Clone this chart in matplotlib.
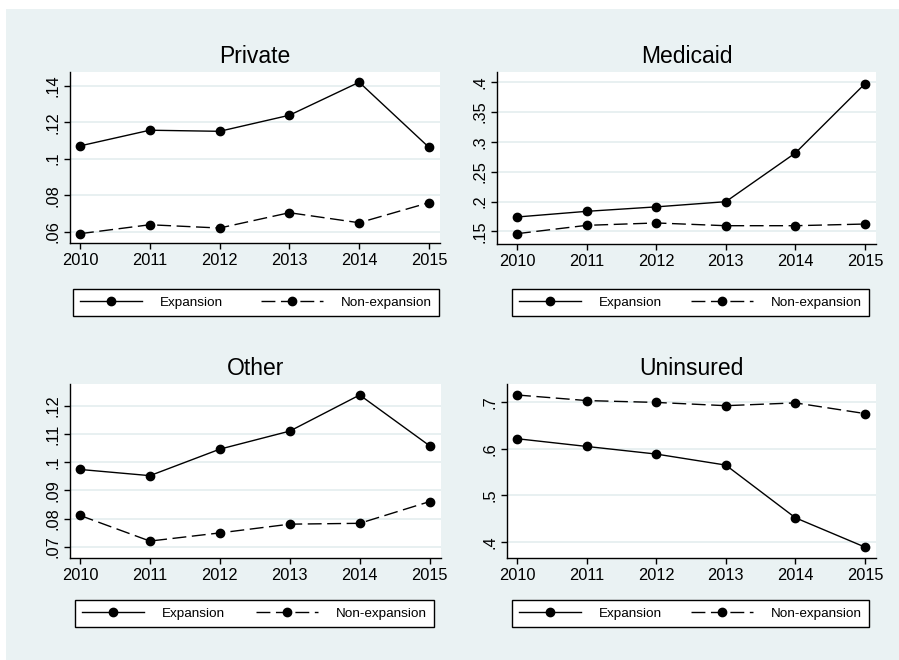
import matplotlib
matplotlib.use("Agg")
import matplotlib.pyplot as plt
from matplotlib.patches import Rectangle
from matplotlib.lines import Line2D

plt.rcParams["font.family"] = ["Liberation Sans", "DejaVu Sans"]

years = [2010, 2011, 2012, 2013, 2014, 2015]

private_exp = [0.1070, 0.1156, 0.1150, 0.1238, 0.1419, 0.1062]
private_non = [0.0589, 0.0638, 0.0620, 0.0704, 0.0649, 0.0759]

medicaid_exp = [0.1740, 0.1835, 0.1910, 0.1997, 0.2814, 0.3977]
medicaid_non = [0.1460, 0.1600, 0.1640, 0.1594, 0.1594, 0.1622]

other_exp = [0.0974, 0.0952, 0.1046, 0.1110, 0.1238, 0.1058]
other_non = [0.0811, 0.0720, 0.0749, 0.0780, 0.0783, 0.0860]

unins_exp = [0.6220, 0.6054, 0.5890, 0.5653, 0.4520, 0.3890]
unins_non = [0.7160, 0.7040, 0.7000, 0.6930, 0.6990, 0.6760]

private_ticks = [0.06, 0.08, 0.10, 0.12, 0.14]
private_labels = [".06", ".08", ".1", ".12", ".14"]
medicaid_ticks = [0.15, 0.20, 0.25, 0.30, 0.35, 0.40]
medicaid_labels = [".15", ".2", ".25", ".3", ".35", ".4"]
other_ticks = [0.07, 0.08, 0.09, 0.10, 0.11, 0.12]
other_labels = [".07", ".08", ".09", ".1", ".11", ".12"]
unins_ticks = [0.4, 0.5, 0.6, 0.7]
unins_labels = [".4", ".5", ".6", ".7"]

titles = ["Private", "Medicaid", "Other", "Uninsured"]
series_names = ["Expansion", "Non-expansion"]

W, H = 899, 660
BG = "#EAF2F3"
GRID = "#E4EDEF"

fig = plt.figure(figsize=(W / 100, H / 100), dpi=100, facecolor="white")
fig.patches.append(Rectangle((6 / W, 0), 1 - 6 / W, 1 - 9 / H,
                             transform=fig.transFigure, facecolor=BG,
                             edgecolor="none", zorder=-10))


def px_axes(x0, y0, x1, y1):
    return [x0 / W, 1 - y1 / H, (x1 - x0) / W, (y1 - y0) / H]


panels = [
    dict(box=(70, 72, 440, 243), xlim=(2009.857, 2015.158), ylim=(0.0538, 0.1475),
         exp=private_exp, non=private_non, ticks=private_ticks, labels=private_labels,
         leg=(73, 283, 439, 316)),
    dict(box=(497, 72, 876, 244), xlim=(2009.713, 2015.158), ylim=(0.1287, 0.4173),
         exp=medicaid_exp, non=medicaid_non, ticks=medicaid_ticks, labels=medicaid_labels,
         leg=(512, 283, 869, 316)),
    dict(box=(70, 384, 441, 558), xlim=(2009.857, 2015.163), ylim=(0.0660, 0.1277),
         exp=other_exp, non=other_non, ticks=other_ticks, labels=other_labels,
         leg=(75, 596, 434, 627)),
    dict(box=(507, 384, 876, 558), xlim=(2009.856, 2015.158), ylim=(0.3656, 0.7396),
         exp=unins_exp, non=unins_non, ticks=unins_ticks, labels=unins_labels,
         leg=(512, 596, 869, 627)),
]

LW = 1.0
DASH = (10.0, 4.0)
MS = 6.0

for title, p in zip(titles, panels):
    ax = fig.add_axes(px_axes(*p["box"]))
    ax.set_facecolor("white")
    ax.plot(years, p["exp"], color="black", lw=LW, marker="o", markersize=MS,
            zorder=3)
    ax.plot(years, p["non"], color="black", lw=LW, marker="o", markersize=MS,
            dashes=DASH, zorder=3)
    ax.set_xlim(*p["xlim"])
    ax.set_ylim(*p["ylim"])
    ax.set_xticks(years)
    ax.set_xticklabels([str(y) for y in years])
    ax.set_yticks(p["ticks"])
    ax.set_yticklabels(p["labels"], rotation=90, va="center")
    ax.grid(axis="y", color=GRID, lw=1.2, zorder=0)
    ax.set_axisbelow(True)
    for s in ("top", "right"):
        ax.spines[s].set_visible(False)
    for s in ("left", "bottom"):
        ax.spines[s].set_color("black")
        ax.spines[s].set_linewidth(1.0)
    ax.tick_params(axis="both", direction="out", length=4, width=1.0,
                   labelsize=11.8, color="black", pad=3)
    ax.set_title(title, fontsize=16.5, pad=6.5)

    lx0, ly0, lx1, ly1 = p["leg"]
    handles = [
        Line2D([], [], color="black", lw=LW, marker="o", markersize=MS),
        Line2D([], [], color="black", lw=LW, marker="o", markersize=MS, dashes=DASH),
    ]
    leg = ax.legend(handles, series_names, ncol=2, mode="expand",
                    loc="lower left",
                    bbox_to_anchor=(lx0 / W, 1 - ly1 / H, (lx1 - lx0) / W, (ly1 - ly0) / H),
                    bbox_transform=fig.transFigure, fontsize=9.7,
                    handlelength=4.6, handletextpad=1.3, borderpad=0.55,
                    borderaxespad=0, frameon=True, fancybox=False)
    frame = leg.get_frame()
    frame.set_edgecolor("black")
    frame.set_linewidth(1.0)
    frame.set_facecolor("white")
    frame.set_alpha(1)

fig.savefig("out.png", dpi=100, facecolor="white")
